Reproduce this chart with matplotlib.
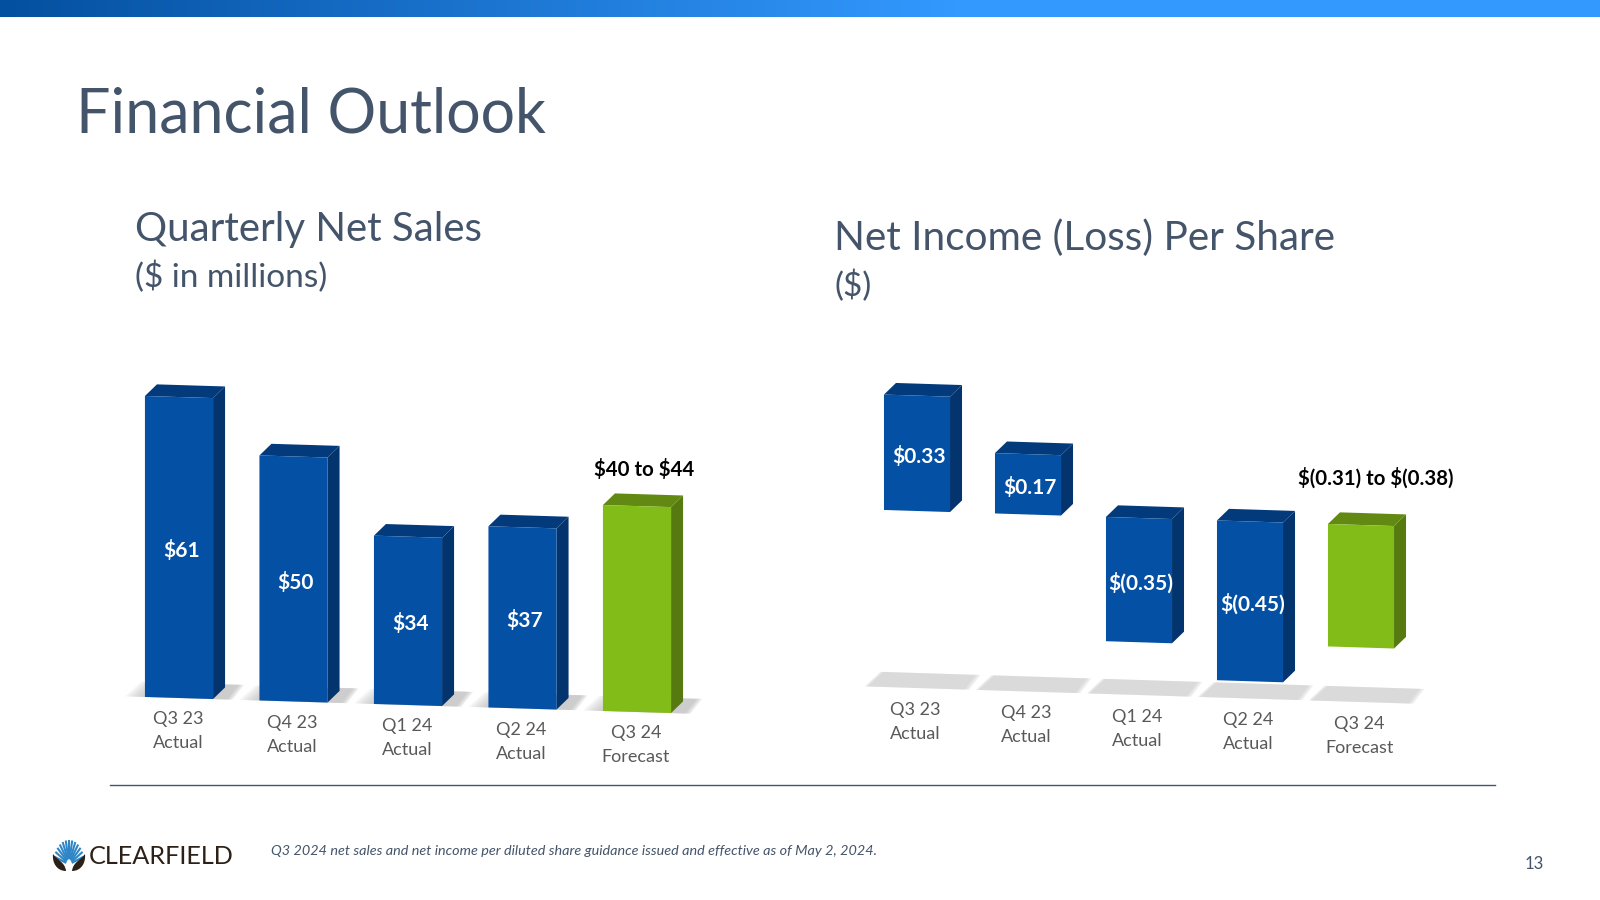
import numpy as np
from matplotlib import pyplot as plt
from matplotlib.colors import LinearSegmentedColormap
from matplotlib.patches import Polygon, PathPatch
from matplotlib.path import Path
from matplotlib.transforms import Affine2D

plt.rcParams['font.family'] = ['Lato', 'DejaVu Sans']
plt.rcParams['text.parse_math'] = False

quarters = ['Q3 23\nActual', 'Q4 23\nActual', 'Q1 24\nActual', 'Q2 24\nActual', 'Q3 24\nForecast']
sales = [60.8, 49.5, 34, 36.6, 41.6]
sales_labels = ['$61', '$50', '$34', '$37', '']
eps = [0.325, 0.17, -0.35, -0.45, -0.345]
eps_labels = ['$0.33', '$0.17', '$(0.35)', '$(0.45)', '']

BLUE = ('#0450A4', '#03346E', '#033A7C')
GREEN = ('#82BC18', '#567A10', '#628A12')
SLATE = '#44546A'
GREY = '#595959'
W, H = 1600, 900


def chart_axes(fig, x0, step, y0, scale, drop):
    # full figure axes, so one data unit is a known number of pixels
    ax = fig.add_axes([0, 0, 1, 1])
    ax.set_xlim(-x0 / step, (W - x0) / step)
    ax.set_ylim((y0 - H) / scale, y0 / scale)
    ax.axis('off')
    ax.patch.set_alpha(0)
    slope = -(drop / scale)
    skew = Affine2D(np.array([[1, 0, 0], [slope, 1, 0], [0, 0, 1]])) + ax.transData
    return ax, skew


def draw_bars(ax, skew, values, width, dx, dy):
    for i, v in enumerate(values):
        front, side, top = GREEN if i == len(values) - 1 else BLUE
        low, high = min(v, 0), max(v, 0)
        left, right = i - width / 2, i + width / 2
        ax.bar(i, v, width, color=front, transform=skew, zorder=5)
        ax.add_patch(Polygon([(right, low), (right + dx, low + dy), (right + dx, high + dy), (right, high)],
                             color=side, lw=0, transform=skew, zorder=4))
        ax.add_patch(Polygon([(left, high), (left + dx, high + dy), (right + dx, high + dy), (right, high)],
                             color=top, lw=0, transform=skew, zorder=4))


def draw_shadows(ax, skew, n, y_top, y_bot, soft, layers=8, color='#b8b8b8', strength=0.13):
    for i in range(n):
        for k in range(layers):
            t = k / layers
            pts = [(i - 0.47 + soft * t, y_bot), (i - 0.33 + soft * t, y_top),
                   (i + 0.57 - 0.06 * t, y_top), (i + 0.47 - 0.06 * t, y_bot)]
            ax.add_patch(Polygon(pts, color=color, alpha=strength, lw=0, transform=skew, zorder=2))


fig = plt.figure(figsize=(16, 9), dpi=100)

# page furniture in pixel coordinates
page = fig.add_axes([0, 0, 1, 1])
page.set_xlim(0, W)
page.set_ylim(H, 0)
page.axis('off')

band = LinearSegmentedColormap.from_list('band', [(0, '#0450A0'), (0.6, '#3399FF'), (1, '#3399FF')])
page.imshow(np.linspace(0, 1, 400).reshape(1, -1), cmap=band, extent=(0, W, 17, 0), aspect='auto')
page.set_xlim(0, W)
page.set_ylim(H, 0)

page.text(76, 115, 'Financial Outlook', fontsize=43.8, color=SLATE, va='center')
page.text(135, 230, 'Quarterly Net Sales', fontsize=29, color=SLATE, va='center')
page.text(135, 277, '($ in millions)', fontsize=24, color=SLATE, va='center')
page.text(834, 238, 'Net Income (Loss) Per Share', fontsize=29.2, color=SLATE, va='center')
page.text(834, 286, '($)', fontsize=24, color=SLATE, va='center')
page.plot([110, 1495], [785, 785], color=SLATE, lw=1)
page.text(271, 851, 'Q3 2024 net sales and net income per diluted share guidance issued and effective as of May 2, 2024.',
          fontsize=10.4, style='italic', color=SLATE, va='center')
page.text(1534, 864, '13', fontsize=12, color=SLATE, ha='center', va='center')

# logo: fan of blue ribs over two dark leaves
for a in np.linspace(20, 160, 13):
    ra = np.radians(a)
    tip = (69 + 16 * np.cos(ra), 865 - 25 * np.sin(ra))
    base = (69 + 3 * np.cos(ra), 865 - 6 * np.sin(ra))
    page.plot([base[0], tip[0]], [base[1], tip[1]], color='#2F86C6', lw=1.5, solid_capstyle='butt')
for sign in (-1, 1):
    leaf = Path([(69 + sign * 3, 871), (69 + sign * 12, 871), (69 + sign * 17, 863), (69 + sign * 16, 854),
                 (69 + sign * 12, 860), (69 + sign * 4, 862), (69 + sign * 3, 871)],
                [Path.MOVETO, Path.CURVE4, Path.CURVE4, Path.CURVE4, Path.CURVE4, Path.CURVE4, Path.CURVE4])
    page.add_patch(PathPatch(leaf, facecolor='#2B2118', lw=0, zorder=3))
page.text(89, 856, 'CLEARFIELD', fontsize=18.2, color='#2B2118', va='center')

# quarterly net sales
ax, skew = chart_axes(fig, 179, 114.5, 698, 4.95, 3.5)
draw_shadows(ax, skew, len(sales), 15 / 4.95, 0, 0.18)
draw_bars(ax, skew, sales, 0.595, 12 / 114.5, 12 / 4.95)
for i, (v, s) in enumerate(zip(sales, sales_labels)):
    ax.text(i + 0.02, v / 2 - 3 / 4.95, s, color='white', fontsize=15, fontweight='bold', ha='center', va='center',
            transform=skew, zorder=6)
    ax.text(i - 0.01, -33.5 / 4.95, quarters[i], color=GREY, fontsize=13, ha='center', va='center',
            linespacing=1.62, transform=skew, zorder=6)
ax.text(len(sales) - 1 + 0.06, sales[-1] + 37 / 4.95, '$40 to $44', color='black', fontsize=14.7, fontweight='bold',
        ha='center', va='center', transform=skew, zorder=6)

# net income per share
ax, skew = chart_axes(fig, 917, 111, 511, 355, 3.5)
draw_shadows(ax, skew, len(eps), -162 / 355, -177 / 355, 0.04, layers=3, color='#c4c4c4', strength=0.27)
draw_bars(ax, skew, eps, 0.595, 12 / 111, 12 / 355)
for i, (v, s) in enumerate(zip(eps, eps_labels)):
    ax.text(i + 0.02, v / 2 - 3 / 355, s, color='white', fontsize=15, fontweight='bold', ha='center', va='center',
            transform=skew, zorder=6)
    ax.text(i - 0.015, -211 / 355, quarters[i], color=GREY, fontsize=13, ha='center', va='center',
            linespacing=1.62, transform=skew, zorder=6)
ax.text(len(eps) - 1 + 0.13, 47 / 355, '$(0.31) to $(0.38)', color='black', fontsize=14.7, fontweight='bold',
        ha='center', va='center', transform=skew, zorder=6)

fig.savefig('out.png', dpi=100)
